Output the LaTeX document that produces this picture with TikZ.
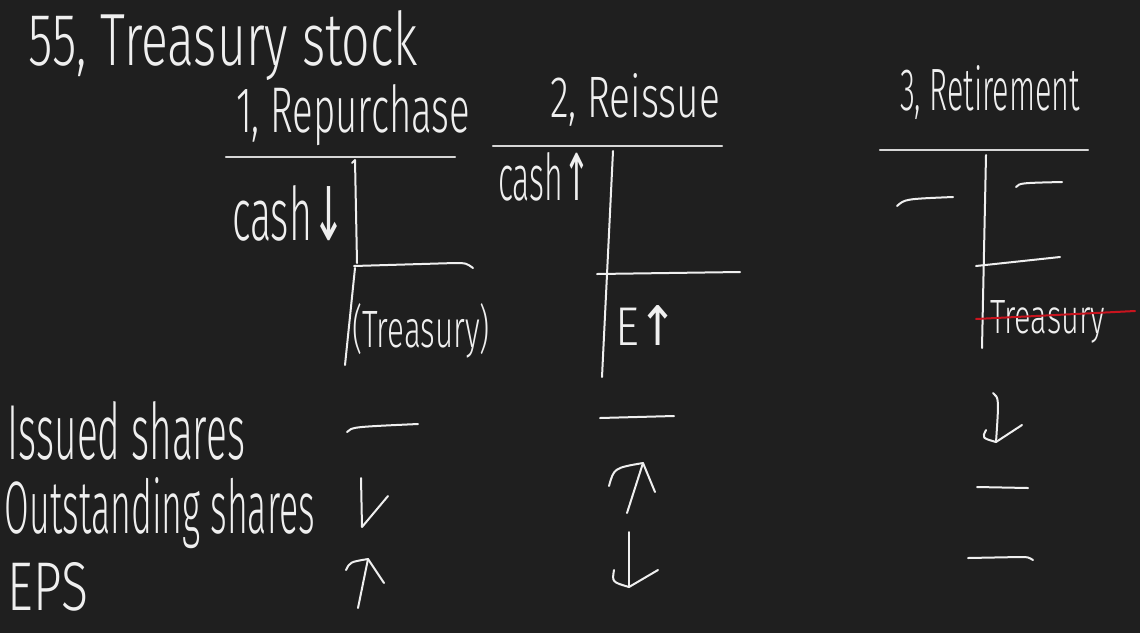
\documentclass[tikz,border=0pt]{standalone}
\usepackage{fontspec}
\setmainfont{Fira Sans Light}
\newfontfamily\arrfont{DejaVu Sans}
\definecolor{bg}{HTML}{1F1F1F}
\definecolor{ink}{HTML}{EFEFEF}
\definecolor{rulegray}{HTML}{D6D6D6}
\definecolor{redink}{HTML}{C8141E}
\newcommand\fitbox[3]{\resizebox{#1pt}{#2pt}{#3}}
\begin{document}
\begin{tikzpicture}[x=1pt,y=-1pt,
  inkline/.style={draw=ink, line width=2pt, line cap=round, line join=round},
  ruleline/.style={draw=rulegray, line width=2.4pt, line cap=round},
  txt/.style={text=ink, inner sep=0pt, outer sep=0pt, anchor=base west}]
\fill[bg] (0,0) rectangle (1140,633);
\useasboundingbox (0,0) rectangle (1140,633);

% headings
\node[txt] (title) at (28,65) {\fitbox{390}{55}{55, Treasury stock}};
\node[txt] (h1) at (236,132) {\fitbox{234}{48}{1, Repurchase}};
\node[txt] (h2) at (550,117) {\fitbox{170}{44}{2, Reissue}};
\node[txt] (h3) at (900,110) {\fitbox{180}{45}{3, Retirement}};

% T-account 1
\draw[ruleline] (226,157) -- (455,157);
\draw[inkline] (352,163) -- (355,160) -- (357,263);
\draw[inkline] (355,268) -- (345,365);
\draw[inkline] (354,266) -- (455,263) .. controls (466,263) .. (473,268);
\node[txt] (cash1) at (232,240) {\fitbox{113}{55}{cash{\arrfont ↓}}};
\node[txt] (treas1) at (352,347) {\fitbox{138}{44}{(Treasury)}};

% T-account 2
\draw[ruleline] (493,146) -- (722,146);
\draw[inkline] (613,151) -- (602,377);
\draw[inkline] (597,274) -- (740,272);
\node[txt] (cash2) at (498,200) {\fitbox{92}{48}{cash{\arrfont ↑}}};
\node[txt] (e2) at (615,345) {\fitbox{63}{40}{E{\arrfont ↑}}};

% T-account 3
\draw[ruleline] (880,150) -- (1088,150);
\draw[inkline] (986,155) -- (982,348);
\draw[inkline] (897,206) .. controls (905,199) .. (953,197);
\draw[inkline] (1016,187) .. controls (1020,183) .. (1062,182);
\draw[inkline] (976,266) -- (1060,257);
\node[txt] (treas3) at (990,333) {\fitbox{115}{33}{Treasury}};
\draw[draw=redink, line width=2pt, line cap=round] (976,319) -- (1135,311);

% row labels
\node[txt] (issued) at (8,459) {\fitbox{237}{58}{Issued shares}};
\node[txt] (outst) at (5,533) {\fitbox{310}{56}{Outstanding shares}};
\node[txt] (eps) at (8,610) {\fitbox{80}{48}{EPS}};

% column 1 marks
\draw[inkline] (347,432) .. controls (352,427) .. (418,424);
\draw[inkline] (361,478) -- (362,527) -- (388,496);
\draw[inkline] (358,608) -- (368,559);
\draw[inkline] (346,570) .. controls (350,562) .. (368,559) -- (384,583);

% column 2 marks
\draw[inkline] (600,418) -- (674,416);
\draw[inkline] (627,513) -- (643,463);
\draw[inkline] (609,486) .. controls (614,468) .. (643,463) -- (655,492);
\draw[inkline] (629,532) -- (629,587);
\draw[inkline] (614,570) .. controls (612,582) .. (629,587) -- (658,570);

% column 3 marks
\draw[inkline] (993,393) .. controls (999,398) .. (996,442);
\draw[inkline] (986,430) .. controls (982,438) .. (996,442) -- (1022,425);
\draw[inkline] (977,487) -- (1028,488);
\draw[inkline] (968,558) -- (1020,557) .. controls (1028,557) .. (1033,560);
\end{tikzpicture}
\end{document}
